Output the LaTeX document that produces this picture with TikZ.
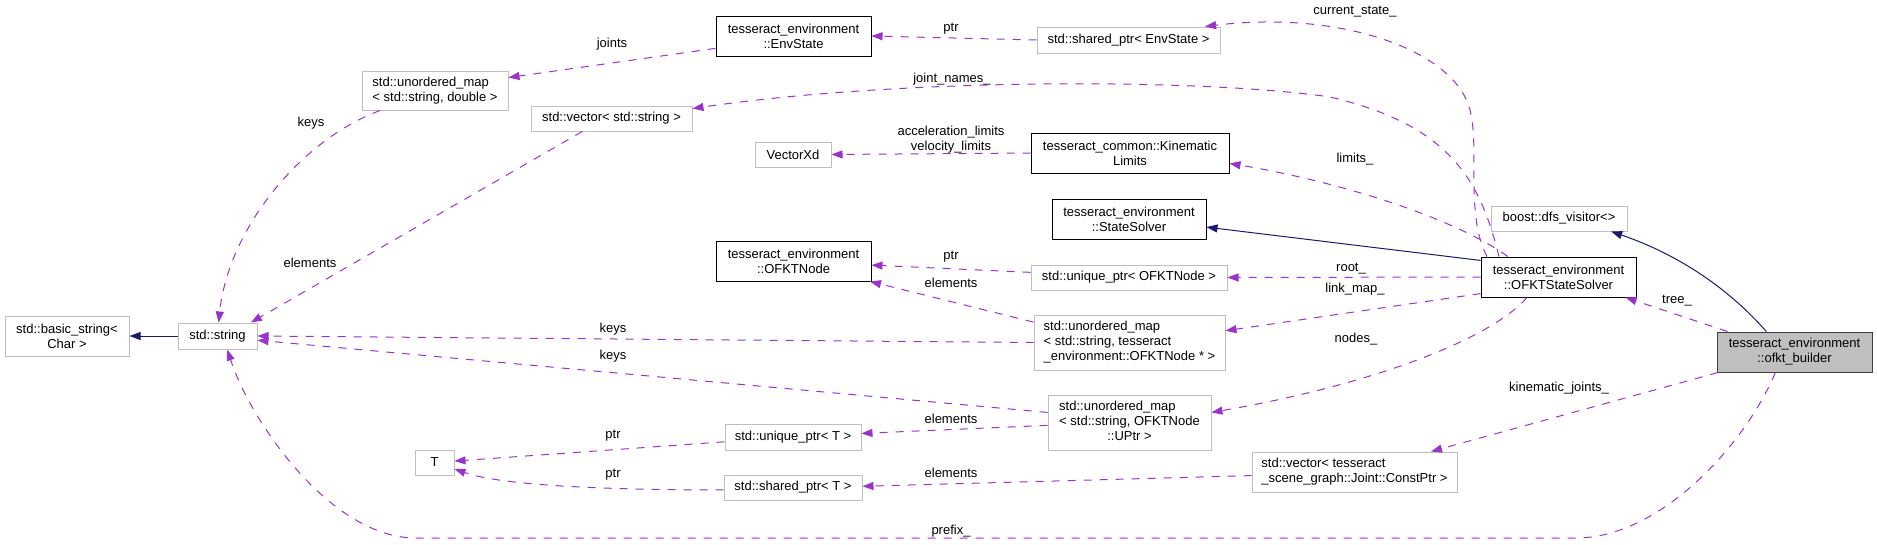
\documentclass[tikz,border=0pt]{standalone}
\usepackage{fontspec}
\setmainfont{Liberation Sans}
\usetikzlibrary{arrows.meta}
\definecolor{edgepurple}{HTML}{9A32CD}
\definecolor{inhblue}{HTML}{191970}
\definecolor{nodegray}{HTML}{BFBFBF}

\begin{document}
\begin{tikzpicture}[x=1pt,y=-1pt,>/.tip={Triangle[length=11pt,width=8pt]},
    box/.style={rectangle,inner sep=0pt,line width=1pt,fill=white,
      font=\fontsize{13}{15}\selectfont,align=center},
    boxsize/.style 2 args={minimum width=#1pt,minimum height=#2pt},
    ext/.style={box,draw=nodegray},
    doc/.style={box,draw=black},
    member/.style={->,edgepurple,line width=1pt,dash pattern=on 8pt off 8pt},
    base/.style={->,inhblue,line width=1pt},
    lbl/.style={inner sep=0pt,font=\fontsize{13}{15}\selectfont,align=center}]
    \useasboundingbox (0,0) rectangle (1877,544);
    % The classes
    \node[ext,boxsize={124}{40}] (bstr) at (67,336) {std::basic\_string<\\Char >};
    \node[ext,boxsize={79}{26}] (str) at (217.5,336) {std::string};
    \node[ext,boxsize={146}{39},align=left] (umapd) at (435,90.5) {std::unordered\_map\\< std::string, double >};
    \node[ext,boxsize={161}{25}] (vecstr) at (611.5,118.5) {std::vector< std::string >};
    \node[doc,boxsize={155}{40}] (envstate) at (793.5,36) {tesseract\_environment\\::EnvState};
    \node[ext,boxsize={183}{26}] (sharedenv) at (1128.5,40) {std::shared\_ptr< EnvState >};
    \node[ext,boxsize={76}{25}] (vectorxd) at (793,154.5) {VectorXd};
    \node[doc,boxsize={198}{40}] (kinlimits) at (1130,153) {tesseract\_common::Kinematic\\Limits};
    \node[doc,boxsize={154}{40}] (statesolver) at (1129,219) {tesseract\_environment\\::StateSolver};
    \node[doc,boxsize={155}{40}] (ofktnode) at (793.5,261) {tesseract\_environment\\::OFKTNode};
    \node[ext,boxsize={196}{25}] (uniqnode) at (1129,277.5) {std::unique\_ptr< OFKTNode >};
    \node[ext,boxsize={191}{55},align=left] (umapnode) at (1129.5,342.5)
      {std::unordered\_map\\< std::string, tesseract\\\_environment::OFKTNode * >};
    \node[ext,boxsize={163}{55}] (umapuptr) at (1129.5,422.5)
      {\begin{tabular}{@{}l@{}}std::unordered\_map\\< std::string, OFKTNode\\\multicolumn{1}{@{}c@{}}{::UPtr >}\end{tabular}};
    \node[ext,boxsize={136}{26}] (uniqt) at (793,437) {std::unique\_ptr< T >};
    \node[ext,boxsize={138}{25}] (sharedt) at (793,487.5) {std::shared\_ptr< T >};
    \node[ext,boxsize={39}{25}] (tnode) at (434.5,462.5) {T};
    \node[ext,boxsize={136}{25}] (dfs) at (1559,218.5) {boost::dfs\_visitor<>};
    \node[doc,boxsize={155}{40}] (solver) at (1558.5,277) {tesseract\_environment\\::OFKTStateSolver};
    \node[doc,boxsize={155}{40},fill=nodegray,draw=black!75] (builder) at (1794.5,352) {tesseract\_environment\\::ofkt\_builder};
    \node[ext,boxsize={205}{40},align=left] (vecjoint) at (1354.5,472)
      {std::vector< tesseract\\\_scene\_graph::Joint::ConstPtr >};

    % Inheritance
    \draw[base] (str.west) -- (bstr.east);
    \draw[base] (solver.168) -- (statesolver.-6);
    \draw[base] (builder.144) .. controls (1730,290) and (1680,255) .. (dfs.-14);

    % Members
    \draw[member] (umapd.200) .. controls (300,140) and (228,230) .. (str.85);
    \draw[member] (vecstr.204) -- (str.22);
    \draw[member] (umapnode.west) -- (str.east);
    \draw[member] (umapuptr.173) -- (str.-6);
    \draw[member] (builder.227) .. controls (1745,445) and (1660,538) .. (1576,538)
      -- (416,538) .. controls (330,538) and (250,420) .. (str.-54);
    \draw[member] (envstate.189) -- (umapd.10);
    \draw[member] (sharedenv.west) -- (envstate.east);
    \draw[member] (solver.164) .. controls (1465,215) and (1480,150) .. (1470,110)
      .. controls (1455,50) and (1340,10) .. (sharedenv.10);
    \draw[member] (solver.161) .. controls (1480,180) and (1450,125) .. (1330,97)
      .. controls (1200,78) and (900,78) .. (vecstr.7);
    \draw[member] (kinlimits.west) -- (vectorxd.east);
    \draw[member] (solver.158) .. controls (1450,215) and (1330,180) .. (kinlimits.-6);
    \draw[member] (uniqnode.177) -- (ofktnode.-3);
    \draw[member] (umapnode.168) -- (ofktnode.-15);
    \draw[member] (solver.west) -- (uniqnode.east);
    \draw[member] (solver.192) -- (umapnode.7);
    \draw[member] (solver.213) .. controls (1490,340) and (1370,385) .. (umapuptr.7);
    \draw[member] (uniqt.184) -- (tnode.4);
    \draw[member] (sharedt.182) .. controls (600,490) and (500,485) .. (tnode.-18);
    \draw[member] (umapuptr.182) -- (uniqt.3);
    \draw[member] (vecjoint.182) -- (sharedt.1);
    \draw[member] (builder.163) -- (solver.-17);
    \draw[member] (builder.195) -- (vecjoint.15);

    % The labels
    \node[lbl] (lkeysa) at (311,123) {keys};
    \node[lbl] (lelemsa) at (310,263) {elements};
    \node[lbl] (ljoints) at (612,44) {joints};
    \node[lbl] (lptra) at (951,29) {ptr};
    \node[lbl] (lcurrent) at (1355,12) {current\_state\_};
    \node[lbl] (ljointnames) at (952,79) {joint\_names\_};
    \node[lbl] (llimitsxd) at (951,139.5) {acceleration\_limits\\velocity\_limits};
    \node[lbl] (llimits) at (1355,159) {limits\_};
    \node[lbl] (lptrb) at (951,257) {ptr};
    \node[lbl] (lelemsb) at (951,283) {elements};
    \node[lbl] (lroot) at (1351,269) {root\_};
    \node[lbl] (llinkmap) at (1355,289) {link\_map\_};
    \node[lbl] (lkeysb) at (613,329) {keys};
    \node[lbl] (lkeysc) at (613,356) {keys};
    \node[lbl] (lnodes) at (1356,339) {nodes\_};
    \node[lbl] (ltree) at (1677,301) {tree\_};
    \node[lbl] (lelemsc) at (951,419) {elements};
    \node[lbl] (lkinjoints) at (1559,388) {kinematic\_joints\_};
    \node[lbl] (lptrc) at (613,436) {ptr};
    \node[lbl] (lptrd) at (613,475) {ptr};
    \node[lbl] (lelemsd) at (951,473) {elements};
    \node[lbl] (lprefix) at (951,531) {prefix\_};
\end{tikzpicture}
\end{document}
